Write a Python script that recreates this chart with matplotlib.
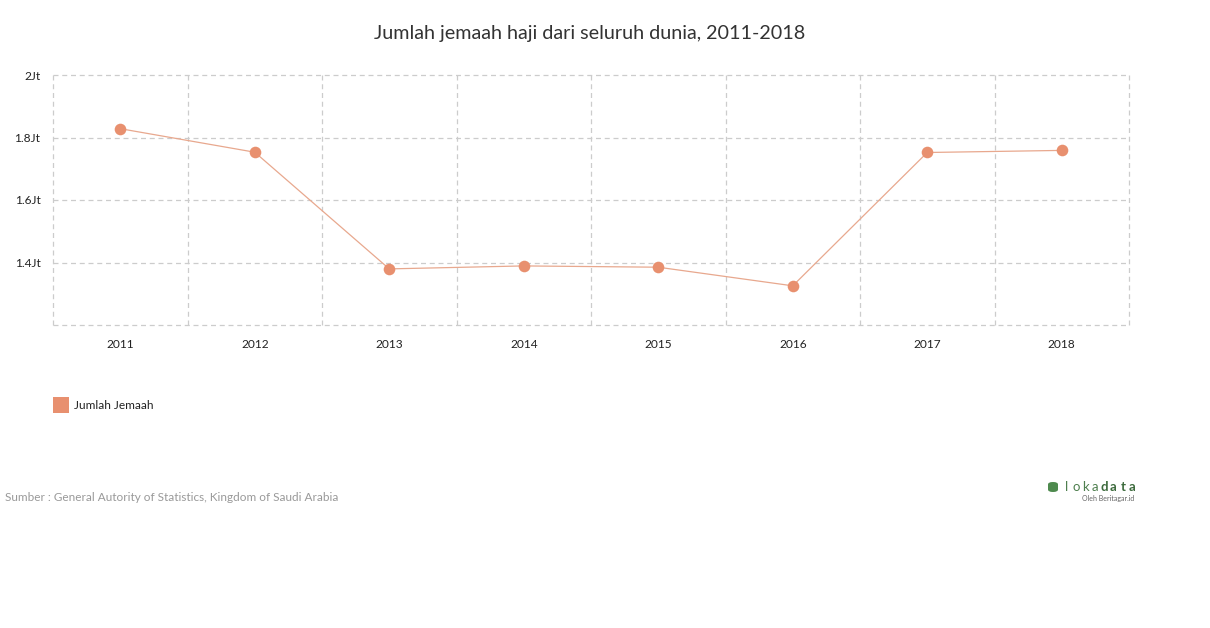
import numpy as np
import matplotlib.pyplot as plt
from matplotlib.patches import FancyBboxPatch

years = ['2011', '2012', '2013', '2014', '2015', '2016', '2017', '2018']
jemaah = [1828195, 1752932, 1379531, 1389053, 1384941, 1325372, 1752014, 1758722]
y_ticks = [1.4e6, 1.6e6, 1.8e6, 2.0e6]
y_labels = ['1.4Jt', '1.6Jt', '1.8Jt', '2Jt']

plt.rcParams['font.family'] = ['Lato', 'DejaVu Sans']

fig = plt.figure(figsize=(12.1, 6.28), dpi=100)
ax = fig.add_axes([53 / 1210, 1 - 325 / 628, (1129 - 53) / 1210, (325 - 75) / 628])

x = np.arange(len(years))
ax.plot(x, jemaah, color='#E8A88E', lw=0.9, zorder=3)
ax.scatter(x, jemaah, s=70, color='#E8906F', zorder=4, linewidths=0)

ax.set_xlim(-0.5, len(years) - 0.5)
ax.set_ylim(1.2e6, 2.0e6)

# dashed grid, including the outer borders
for gx in np.arange(-0.5, len(years), 1.0):
    ax.axvline(gx, color='#cccccc', lw=0.9, ls=(0, (4, 3)), zorder=1, clip_on=False)
for gy in [1.2e6] + y_ticks:
    ax.axhline(gy, color='#cccccc', lw=0.9, ls=(0, (4, 3)), zorder=1, clip_on=False)

for s in ax.spines.values():
    s.set_visible(False)

ax.set_xticks(x)
ax.set_xticklabels(years, fontsize=8.6, color='#222222')
ax.set_yticks(y_ticks)
ax.set_yticklabels(y_labels, fontsize=8.6, color='#222222')
ax.tick_params(length=0)
ax.tick_params(axis='x', pad=10)
ax.tick_params(axis='y', pad=9)

fig.text(590 / 1210, 1 - 33 / 628, 'Jumlah jemaah haji dari seluruh dunia, 2011-2018',
         ha='center', va='center', fontsize=14.2, color='#333333')

# legend
fig.patches.append(plt.Rectangle((53 / 1210, 1 - 413 / 628), 16 / 1210, 16 / 628,
                                 transform=fig.transFigure, color='#E8906F', lw=0))
fig.text(74 / 1210, 1 - 405.5 / 628, 'Jumlah Jemaah', ha='left', va='center',
         fontsize=8.6, color='#222222')

fig.text(5 / 1210, 1 - 497.5 / 628,
         'Sumber : General Autority of Statistics, Kingdom of Saudi Arabia',
         ha='left', va='center', fontsize=8.5, color='#999999')

# logo
for i, ch in enumerate('lokadata'):
    fig.text((1067 + i * 9.3) / 1210, 1 - 487 / 628, ch, ha='center', va='center',
             fontsize=9.5, color='#4e7f4e' if i < 4 else '#3d6b3d',
             fontweight='normal' if i < 4 else 'bold')
fig.text(1134 / 1210, 1 - 498.5 / 628, 'Oleh Beritagar.id', ha='right', va='center',
         fontsize=5, color='#666666')
fig.patches.append(FancyBboxPatch((1048 / 1210, 1 - 492 / 628), 10 / 1210, 10 / 628,
                                  boxstyle='round,pad=0,rounding_size=0.004',
                                  transform=fig.transFigure, color='#4e8a4e', lw=0))

fig.savefig('out.png', dpi=100)
